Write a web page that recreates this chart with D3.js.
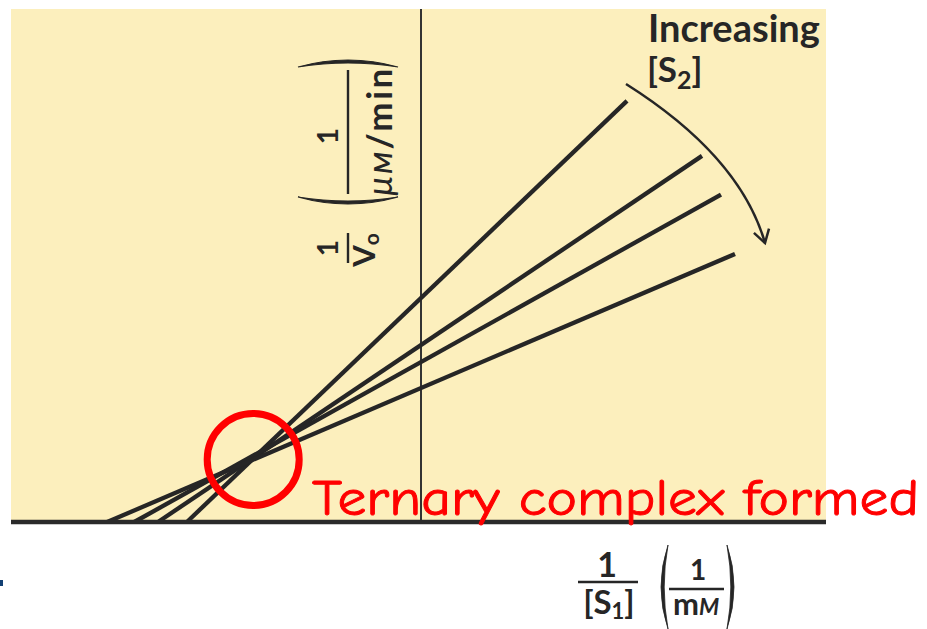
<!DOCTYPE html>
<html>
<head>
<meta charset="utf-8">
<script src="https://cdn.jsdelivr.net/npm/d3@7"></script>
<style>
  body { margin: 0; background: #ffffff; }
  svg { display: block; }
</style>
</head>
<body>
<svg id="chart" width="927" height="629"></svg>
<script>
// Double-reciprocal (Lineweaver–Burk) plot of a bisubstrate reaction,
// one line per [S2] level; the lines meet left of the 1/v0 axis.
const s2Levels   = ["[S2] 1", "[S2] 2", "[S2] 3", "[S2] 4"];
const slopes     = [0.957, 0.673, 0.558, 0.427];   // Km / Vmax
const intercepts = [2.24, 1.77, 1.60, 1.34];       // 1 / Vmax
const xEnds      = [2.06, 2.81, 3.00, 3.14];       // last 1/[S1] drawn
const xDomain    = [-4.1, 4.05];
const yDomain    = [0, 5.13];

// curved "increasing [S2]" arrow, in data units
const arrowPts   = [[2.05, 4.38], [3.19, 3.66], [3.44, 2.79]];

const svg = d3.select("#chart");
const plot = { left: 11, right: 826, top: 9, bottom: 522 };

const x = d3.scaleLinear().domain(xDomain).range([plot.left, plot.right]);
const y = d3.scaleLinear().domain(yDomain).range([plot.bottom, plot.top]);

const ink = "#262626";

// panel background
svg.append("rect")
  .attr("x", plot.left).attr("y", plot.top)
  .attr("width", plot.right - plot.left).attr("height", plot.bottom - plot.top)
  .attr("fill", "#fcefbd");

// 1/v0 axis at 1/[S1] = 0
svg.append("line")
  .attr("x1", x(0)).attr("x2", x(0))
  .attr("y1", plot.top).attr("y2", plot.bottom)
  .attr("stroke", "#333").attr("stroke-width", 2);

// data lines
const lines = s2Levels.map((k, i) => ({
  key: k, m: slopes[i], b: intercepts[i],
  x0: -intercepts[i] / slopes[i], x1: xEnds[i]
}));

svg.append("g").selectAll("line")
  .data(lines).join("line")
  .attr("x1", d => x(d.x0)).attr("y1", d => y(d.m * d.x0 + d.b))
  .attr("x2", d => x(d.x1)).attr("y2", d => y(d.m * d.x1 + d.b))
  .attr("stroke", ink).attr("stroke-width", 4.3).attr("stroke-linecap", "butt");

// x axis (1/v0 = 0)
svg.append("line")
  .attr("x1", plot.left).attr("x2", plot.right)
  .attr("y1", y(0)).attr("y2", y(0))
  .attr("stroke", "#2a2a2a").attr("stroke-width", 4.5);

// curved arrow
const ap = arrowPts.map(p => [x(p[0]), y(p[1])]);
const curve = d3.path();
curve.moveTo(ap[0][0], ap[0][1]);
curve.quadraticCurveTo(ap[1][0], ap[1][1], ap[2][0], ap[2][1]);
svg.append("path").attr("d", curve.toString())
  .attr("fill", "none").attr("stroke", ink).attr("stroke-width", 2.5);

const ang = Math.atan2(ap[2][1] - ap[1][1], ap[2][0] - ap[1][0]);
const hl = 15, ha = 0.55;
const head = d3.path();
head.moveTo(ap[2][0] - hl * Math.cos(ang - ha), ap[2][1] - hl * Math.sin(ang - ha));
head.lineTo(ap[2][0], ap[2][1]);
head.lineTo(ap[2][0] - hl * Math.cos(ang + ha), ap[2][1] - hl * Math.sin(ang + ha));
svg.append("path").attr("d", head.toString())
  .attr("fill", "none").attr("stroke", ink).attr("stroke-width", 2.5)
  .attr("stroke-linejoin", "miter");

// "Increasing [S2]"
const labelFont = "Lato, 'Open Sans', sans-serif";
svg.append("text")
  .attr("x", 648).attr("y", 42)
  .attr("font-family", labelFont).attr("font-weight", 700).attr("font-size", 38)
  .attr("fill", ink).text("Increasing");
const s2 = svg.append("text")
  .attr("x", 647).attr("y", 82)
  .attr("font-family", labelFont).attr("font-weight", 700).attr("font-size", 35)
  .attr("fill", ink);
s2.append("tspan").text("[S");
s2.append("tspan").attr("font-size", 25).attr("dy", 7).text("2");
s2.append("tspan").attr("dy", -7).text("]");

// parenthesis drawn as a tapered crescent
function paren(g, cx, cy, h, bulge, dir) {
  // dir = -1 for "(", +1 for ")"; vertical extent h centred at (cx, cy)
  const w = 3.2;
  const p = d3.path();
  p.moveTo(cx, cy - h / 2);
  p.quadraticCurveTo(cx + dir * bulge * 2, cy, cx, cy + h / 2);
  p.quadraticCurveTo(cx + dir * (bulge * 2 - w * 2), cy, cx, cy - h / 2);
  p.closePath();
  g.append("path").attr("d", p.toString()).attr("fill", ink)
    .attr("stroke", ink).attr("stroke-width", 0.8);
}

// y-axis title: 1/V0 (1/μM/min), rotated
const yt = svg.append("g").attr("transform", "translate(348,160) rotate(-90)");
const yFont = 28;
yt.append("text").attr("x", -88).attr("y", -10).attr("text-anchor", "middle")
  .attr("font-family", labelFont).attr("font-weight", 700).attr("font-size", yFont)
  .attr("fill", ink).text("1");
yt.append("line").attr("x1", -103).attr("x2", -73).attr("y1", 0).attr("y2", 0)
  .attr("stroke", ink).attr("stroke-width", 2.4);
const v0 = yt.append("text").attr("x", -90).attr("y", 27).attr("text-anchor", "middle")
  .attr("font-family", labelFont).attr("font-weight", 700).attr("font-size", 31)
  .attr("fill", ink);
v0.append("tspan").text("V");
v0.append("tspan").attr("font-size", 21).attr("dy", 4).text("o");
yt.append("text").attr("x", 24).attr("y", -10).attr("text-anchor", "middle")
  .attr("font-family", labelFont).attr("font-weight", 700).attr("font-size", yFont)
  .attr("fill", ink).text("1");
yt.append("line").attr("x1", -34).attr("x2", 90).attr("y1", 0).attr("y2", 0)
  .attr("stroke", ink).attr("stroke-width", 2.4);
const um = yt.append("text").attr("x", 29).attr("y", 44).attr("text-anchor", "middle")
  .attr("font-family", labelFont).attr("font-weight", 700).attr("font-size", 35)
  .attr("letter-spacing", 2.5)
  .attr("fill", ink);
um.append("tspan").attr("font-style", "italic").attr("font-weight", 400).text("μ");
um.append("tspan").attr("font-size", 25).attr("font-style", "italic").text("M");
um.append("tspan").text("/min");
// parentheses around the unit fraction (rotated frame: x runs along the title)
function rotParen(x0, bulgeX, innerX) {
  const p = d3.path();
  p.moveTo(x0, -50); p.quadraticCurveTo(bulgeX, 0, x0, 50);
  p.quadraticCurveTo(innerX, 0, x0, -50); p.closePath();
  yt.append("path").attr("d", p.toString())
    .attr("fill", ink).attr("stroke", ink).attr("stroke-width", 1.2);
}
rotParen(-37, -51, -45);
rotParen(93, 107, 101);

// x-axis title: 1/[S1] (1/mM)
const xt = svg.append("g");
xt.append("text").attr("x", 607).attr("y", 577).attr("text-anchor", "middle")
  .attr("font-family", labelFont).attr("font-weight", 700).attr("font-size", 34)
  .attr("fill", ink).text("1");
xt.append("line").attr("x1", 578).attr("x2", 638).attr("y1", 582).attr("y2", 582)
  .attr("stroke", ink).attr("stroke-width", 2.4);
const s1 = xt.append("text").attr("x", 609).attr("y", 614).attr("text-anchor", "middle")
  .attr("font-family", labelFont).attr("font-weight", 700).attr("font-size", 33)
  .attr("fill", ink);
s1.append("tspan").text("[S");
s1.append("tspan").attr("font-size", 22).attr("dy", 5).text("1");
s1.append("tspan").attr("dy", -5).text("]");
xt.append("text").attr("x", 698).attr("y", 580).attr("text-anchor", "middle")
  .attr("font-family", labelFont).attr("font-weight", 700).attr("font-size", 28)
  .attr("fill", ink).text("1");
xt.append("line").attr("x1", 669).attr("x2", 724).attr("y1", 589).attr("y2", 589)
  .attr("stroke", ink).attr("stroke-width", 2.4);
const mm = xt.append("text").attr("x", 696).attr("y", 615).attr("text-anchor", "middle")
  .attr("font-family", labelFont).attr("font-weight", 700).attr("font-size", 31)
  .attr("fill", ink);
mm.append("tspan").text("m");
mm.append("tspan").attr("font-size", 23).attr("font-style", "italic").text("M");
paren(xt, 668, 587, 84, 7, -1);
paren(xt, 727, 587, 84, 7, 1);

// ternary-complex annotation
const mi = (intercepts[3] - intercepts[0]) / (slopes[0] - slopes[3]);
const mv = slopes[0] * mi + intercepts[0];
svg.append("circle")
  .attr("cx", x(mi) + 2).attr("cy", y(mv) - 1).attr("r", 46)
  .attr("fill", "none").attr("stroke", "#ff0000").attr("stroke-width", 7);
svg.append("text")
  .attr("x", 312).attr("y", 515)
  .attr("font-family", "'Comic Sans MS', 'Comic Neue', 'DejaVu Sans', sans-serif")
  .attr("font-size", 50).attr("fill", "#ff0000")
  .attr("stroke", "#ff0000").attr("stroke-width", 0.9)
  .attr("textLength", 607).attr("lengthAdjust", "spacingAndGlyphs")
  .text("Ternary complex formed");

// slide bullet fragment at the left edge
svg.append("rect").attr("x", 0).attr("y", 580).attr("width", 3).attr("height", 6)
  .attr("fill", "#123f73");
</script>
</body>
</html>
